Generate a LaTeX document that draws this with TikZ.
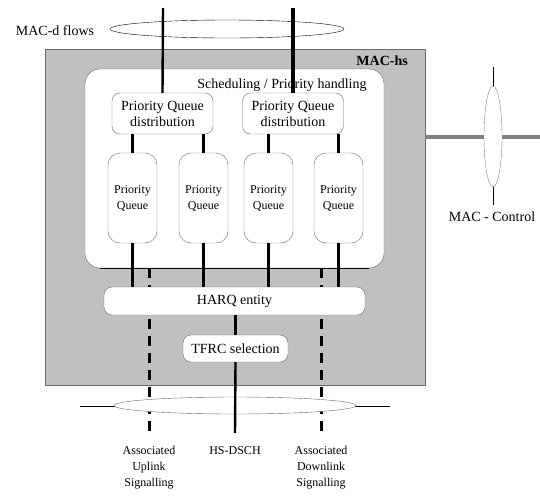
\documentclass[tikz,border=0pt]{standalone}
\usepackage{fontspec}
\setmainfont{Liberation Serif}
\usetikzlibrary{shapes.geometric,positioning}
\definecolor{hsgray}{RGB}{192,192,192}
\definecolor{rimgray}{RGB}{105,105,105}
\definecolor{ctrlgray}{RGB}{128,128,128}

\begin{document}
\begin{tikzpicture}[x=1pt,y=-1pt,
  big/.style={font=\fontsize{14}{16}\selectfont},
  small/.style={font=\fontsize{12}{16}\selectfont},
  box/.style={draw=rimgray,fill=white,rounded corners=8pt,inner sep=0pt,align=center},
  thin/.style={line width=2.4pt},
  thick/.style={line width=3.4pt},
  sig/.style={line width=3pt,dash pattern=on 10pt off 7pt}]
  \useasboundingbox (0,0) rectangle (540,501);

  % MAC-d flows
  \node[big,inner sep=0pt] (macd) at (55,31) {MAC-d flows};
  \node[draw,ellipse,fill=white,minimum width=234pt,minimum height=18pt] (flows) at (227,29) {};
  \coordinate (in1) at (163,8);
  \coordinate (in2) at (293,8);

  % MAC-hs
  \node[draw=rimgray,fill=hsgray,minimum width=380pt,minimum height=336pt,inner sep=0pt] (machs) at (235,217) {};
  \node[font=\fontsize{14}{16}\selectfont\bfseries,anchor=east,inner sep=0pt] (hslabel) at (408,61) {MAC-hs};
  \node[draw=rimgray,fill=white,rounded corners=15pt,minimum width=299pt,minimum height=199pt] (sched) at (234.5,168.5) {};
  \draw ([xshift=15pt]sched.south west) -- ([xshift=-15pt]sched.south east);
  \node[big,inner sep=0pt] (schedlabel) at (282,85) {Scheduling / Priority handling};

  \node[box,big,minimum width=101pt,minimum height=41pt] (dist1) at (162.5,113.5) {Priority Queue\\distribution};
  \node[box,big,minimum width=101pt,minimum height=41pt] (dist2) at (293,113.5) {Priority Queue\\distribution};

  \foreach \i/\x in {1/132.5,2/203.5,3/268.5,4/338.5}
    \node[box,small,rounded corners=12pt,minimum width=49pt,minimum height=90pt] (pq\i) at (\x,198) {Priority\\Queue};

  % signalling lines
  \coordinate (ultop) at (149,268);
  \coordinate (ulend) at (149,433);
  \coordinate (dltop) at (321,268);
  \coordinate (dlend) at (321,433);
  \draw[sig] (ultop) -- (ulend);
  \draw[sig] (dltop) -- (dlend);

  \node[box,big,minimum width=261pt,minimum height=28pt] (harq) at (234.5,301) {HARQ entity};
  \node[box,big,minimum width=105pt,minimum height=27pt] (tfrc) at (235.5,348.5) {TFRC selection};

  % HS-DSCH
  \coordinate (dsl) at (80,406);
  \coordinate (dsr) at (390,406);
  \draw[line width=0.8pt] (dsl) -- (dsr);
  \node[draw=rimgray,ellipse,fill=white,minimum width=242pt,minimum height=17pt] (dsch) at (235,405.5) {};
  \coordinate (dschend) at (235,433);

  % connections
  \draw[thin] (in1) -- (dist1.north);
  \draw[thick] (in2) -- (dist2.north);
  \draw[thin] (pq1.north) -- (pq1.north |- dist1.south);
  \draw[thick] (pq2.north) -- (pq2.north |- dist1.south);
  \draw[thin] (pq3.north) -- (pq3.north |- dist2.south);
  \draw[thick] (pq4.north) -- (pq4.north |- dist2.south);
  \draw[thin] (pq1.south) -- (pq1.south |- harq.north);
  \draw[thick] (pq2.south) -- (pq2.south |- harq.north);
  \draw[thin] (pq3.south) -- (pq3.south |- harq.north);
  \draw[thick] (pq4.south) -- (pq4.south |- harq.north);
  \draw[thin] (tfrc.north |- harq.south) -- (tfrc.north);
  \draw[thin] (tfrc.south) -- (dschend);

  \node[small,align=center,anchor=north,inner sep=0pt] (ul) at (149,446) {Associated\\Uplink\\Signalling};
  \node[small,anchor=north,inner sep=0pt] (hsdsch) at (235,446) {HS-DSCH};
  \node[small,align=center,anchor=north,inner sep=0pt] (dl) at (321,446) {Associated\\Downlink\\Signalling};

  % MAC-Control
  \coordinate (ctrltop) at (493,67);
  \coordinate (ctrlbot) at (493,205);
  \coordinate (ctrll) at (425,137);
  \coordinate (ctrlr) at (540,137);
  \draw[line width=0.8pt] (ctrltop) -- (ctrlbot);
  \draw[ctrlgray,line width=4pt] (ctrll) -- (ctrlr);
  \node[draw=ctrlgray,ellipse,fill=white,minimum width=18pt,minimum height=101pt,inner sep=0pt] (ctrl) at (493,136.5) {};
  \node[big,inner sep=0pt] (ctrllabel) at (492,217) {MAC - Control};
\end{tikzpicture}
\end{document}
